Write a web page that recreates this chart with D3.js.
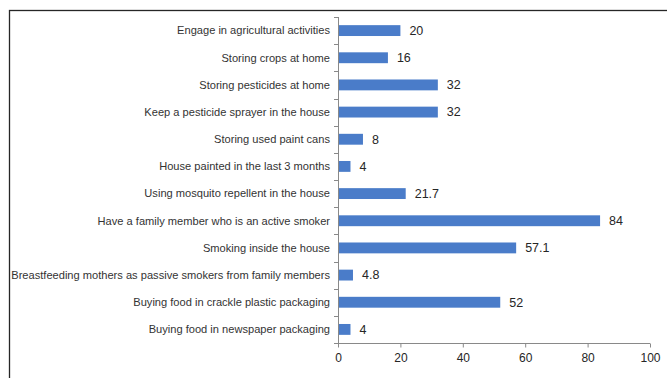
<!DOCTYPE html>
<html><head><meta charset="utf-8">
<script src="https://cdn.jsdelivr.net/npm/d3@7"></script>
<style>body{margin:0;background:#fff;} svg{display:block;}</style>
</head><body>
<svg id="c" width="667" height="378"></svg>
<script>
const categories = [
  "Engage in agricultural activities",
  "Storing crops at home",
  "Storing pesticides at home",
  "Keep a pesticide sprayer in the house",
  "Storing used paint cans",
  "House painted in the last 3 months",
  "Using mosquito repellent in the house",
  "Have a family member who is an active smoker",
  "Smoking inside the house",
  "Breastfeeding mothers as passive smokers from family members",
  "Buying food in crackle plastic packaging",
  "Buying food in newspaper packaging"
];
const values = [20, 16, 32, 32, 8, 4, 21.7, 84, 57.1, 4.8, 52, 4];
const valueLabels = ["20", "16", "32", "32", "8", "4", "21.7", "84", "57.1", "4.8", "52", "4"];
const xTicks = [0, 20, 40, 60, 80, 100];

const svg = d3.select("#c");
const font = "'Liberation Sans', Arial, sans-serif";
// outer frame
svg.append("rect").attr("x", 9.5).attr("y", 10.5).attr("width", 700).attr("height", 400)
  .attr("fill", "none").attr("stroke", "#262626").attr("stroke-width", 1.3);

const x = d3.scaleLinear().domain([0, 100]).range([338, 650]);
const y = d3.scaleBand().domain(categories).range([17, 343]).paddingInner(0.6).paddingOuter(0.3);

// bars
svg.append("g").selectAll("rect").data(values).join("rect")
  .attr("x", x(0)).attr("y", (d, i) => y(categories[i]))
  .attr("width", d => x(d) - x(0)).attr("height", y.bandwidth())
  .attr("fill", "#4a7cc9");

// value labels
svg.append("g").selectAll("text").data(values).join("text")
  .attr("x", d => x(d) + 9).attr("y", (d, i) => y(categories[i]) + y.bandwidth() / 2)
  .attr("dy", "0.35em").attr("font-family", font).attr("font-size", 12.5).attr("fill", "#262626")
  .text((d, i) => valueLabels[i]);

// y axis
const yAxisG = svg.append("g").attr("transform", `translate(${x(0)},0)`);
yAxisG.append("line").attr("x1", 0.5).attr("x2", 0.5).attr("y1", 17).attr("y2", 343).attr("stroke", "#898989");
const step = (343 - 17) / categories.length;
yAxisG.selectAll("line.t").data(d3.range(categories.length + 1)).join("line").attr("class", "t")
  .attr("x1", -4).attr("x2", 0.5).attr("y1", i => Math.round(17 + i * step) + 0.5).attr("y2", i => Math.round(17 + i * step) + 0.5)
  .attr("stroke", "#898989");
yAxisG.selectAll("text").data(categories).join("text")
  .attr("x", -8).attr("y", d => y(d) + y.bandwidth() / 2).attr("dy", "0.35em")
  .attr("text-anchor", "end").attr("font-family", font).attr("font-size", 11.1).attr("fill", "#333333")
  .text(d => d);

// x axis
const xAxis = d3.axisBottom(x).tickValues(xTicks).tickSize(4).tickPadding(6).tickFormat(d3.format("d"));
const xg = svg.append("g").attr("transform", "translate(0,343.5)").call(xAxis);
xg.select(".domain").attr("stroke", "#898989").attr("d", `M${x(0)},0H${x(100)}`);
xg.selectAll(".tick line").attr("stroke", "#898989");
xg.selectAll(".tick text").attr("font-family", font).attr("font-size", 12).attr("fill", "#262626");
</script>
</body></html>
